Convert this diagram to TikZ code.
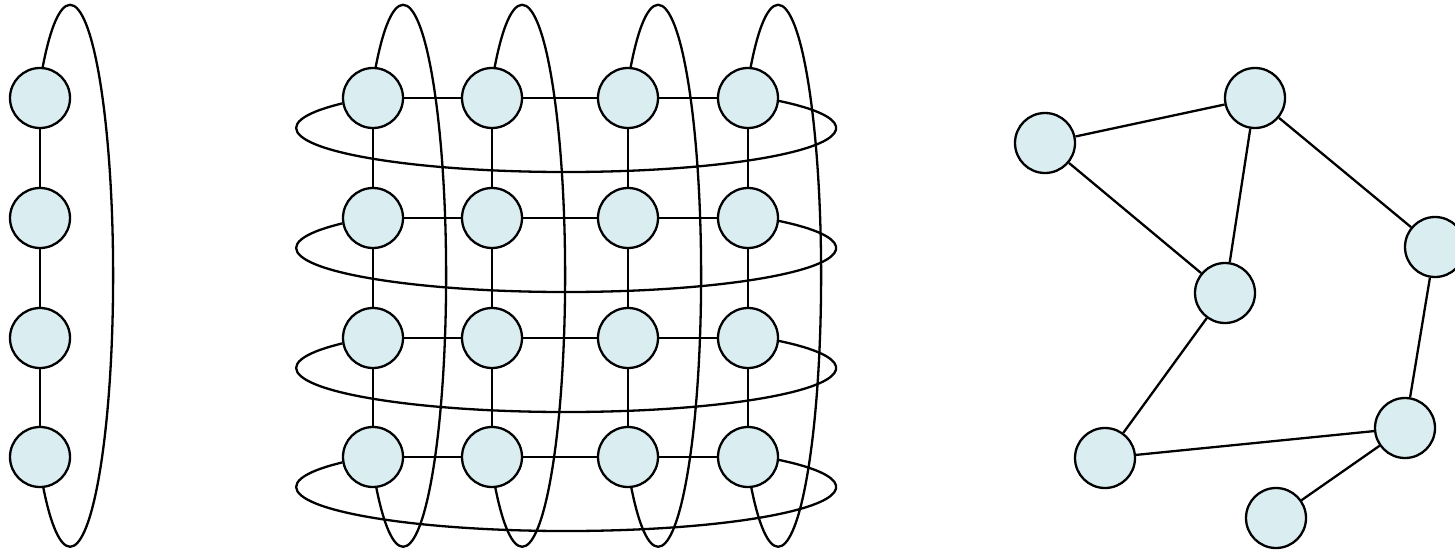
\documentclass[tikz,border=0pt]{standalone}
\definecolor{vfill}{RGB}{218,238,242}
\pgfdeclarelayer{bg}
\pgfsetlayers{bg,main}
\tikzset{
  vtx/.style={circle,draw=black,fill=vfill,line width=2.3pt,minimum size=60pt,inner sep=0pt},
  link/.style={draw=black,line width=2.3pt},
  ring/.style={draw=black,line width=2.3pt}
}
\begin{document}
\begin{tikzpicture}[x=1pt,y=1pt]
\clip (0,0) rectangle (1455,550);
% left column and grid
\foreach \i/\y in {1/452,2/332,3/212,4/93}{
  \node[vtx] (l\i) at (40,\y) {};
  \foreach \j/\x in {1/373,2/492,3/628,4/748}
    \node[vtx] (g\i\j) at (\x,\y) {};
}
% right graph
\node[vtx] (A) at (1045,407) {};
\node[vtx] (B) at (1255,452) {};
\node[vtx] (C) at (1225,257) {};
\node[vtx] (D) at (1435,303) {};
\node[vtx] (E) at (1105,92) {};
\node[vtx] (F) at (1405,122) {};
\node[vtx] (G) at (1276,32) {};
\begin{pgfonlayer}{bg}
\foreach \i in {1,2,3}{
  \pgfmathtruncatemacro\k{\i+1}
  \draw[link] (l\i) -- (l\k);
  \foreach \j in {1,2,3,4}
    \draw[link] (g\i\j) -- (g\k\j);
}
\foreach \i in {1,2,3,4}{
  \foreach \j in {1,2,3}{
    \pgfmathtruncatemacro\k{\j+1}
    \draw[link] (g\i\j) -- (g\i\k);
  }
  \draw[ring] (g\i1.190) arc[start angle=146, end angle=398, x radius=270pt, y radius=44pt];
  \draw[ring] (g1\i.85) arc[start angle=129.6, end angle=-129.6, x radius=43pt, y radius=271pt];
}
\draw[ring] (l1.85) arc[start angle=129.6, end angle=-129.6, x radius=43pt, y radius=271pt];
\draw[link] (A) -- (B);
\draw[link] (A) -- (C);
\draw[link] (B) -- (C);
\draw[link] (B) -- (D);
\draw[link] (D) -- (F);
\draw[link] (C) -- (E);
\draw[link] (E) -- (F);
\draw[link] (F) -- (G);
\end{pgfonlayer}
\end{tikzpicture}
\end{document}
